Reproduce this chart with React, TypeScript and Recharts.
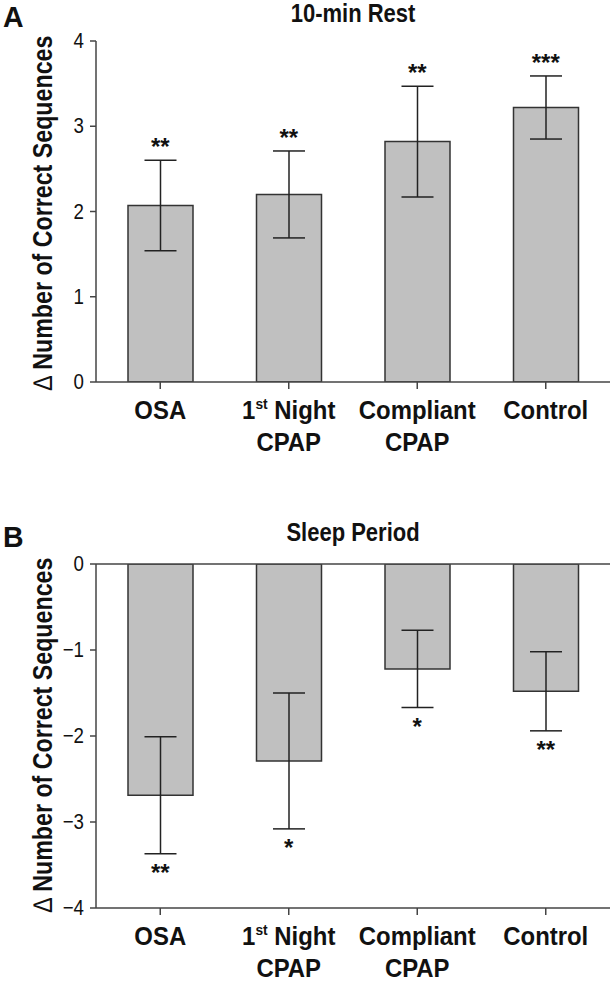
import React from 'react';
import { ComposedChart, Bar, ErrorBar, Line, XAxis, YAxis, ReferenceLine } from 'recharts';

// groups (second line after \n)
const categories = ['OSA', '1st Night\nCPAP', 'Compliant\nCPAP', 'Control'];

// A: 10-min rest
const restMeans = [2.07, 2.2, 2.82, 3.22];
const restErrors = [0.53, 0.51, 0.65, 0.37];
const restStars = ['**', '**', '**', '***'];
const restTicks = [0, 1, 2, 3, 4];

// B: sleep period
const sleepMeans = [-2.69, -2.29, -1.22, -1.48];
const sleepErrors = [0.68, 0.79, 0.45, 0.46];
const sleepStars = ['**', '*', '*', '**'];
const sleepTicks = [-4, -3, -2, -1, 0];

const FONT = '"Liberation Sans", Arial, sans-serif';
const INK = '#222';
const AXIS = '#444';

const restRows = categories.map((c, i) => ({
  group: c,
  mean: restMeans[i],
  err: restErrors[i],
  starAt: restMeans[i] + restErrors[i],
  stars: restStars[i],
}));

const sleepRows = categories.map((c, i) => ({
  group: c,
  mean: sleepMeans[i],
  err: sleepErrors[i],
  starAt: sleepMeans[i] - sleepErrors[i],
  stars: sleepStars[i],
}));

// condensed text: squeeze a normal face horizontally
function Narrow({ x, y, sx = 0.9, rotate = 0, size, bold = true, anchor = 'middle', children }: any) {
  return (
    <text
      transform={`translate(${x} ${y}) rotate(${rotate}) scale(${sx} 1)`}
      textAnchor={anchor}
      fontFamily={FONT}
      fontWeight={bold ? 'bold' : 'normal'}
      fontSize={size}
      fill="#111"
    >
      {children}
    </text>
  );
}

function CategoryTick(props: any) {
  const { x, y, payload } = props;
  const [first, second] = String(payload.value).split('\n');
  const m = first.match(/^(\d+)(st|nd|rd|th) (.*)$/);
  return (
    <g>
      <Narrow x={x} y={y + 28} size={26} sx={0.92}>
        {m ? (
          <>
            <tspan>{m[1]}</tspan>
            <tspan fontSize={15} dy={-10}>{m[2]}</tspan>
            <tspan dy={10}>{' ' + m[3]}</tspan>
          </>
        ) : (
          first
        )}
      </Narrow>
      {second && (
        <Narrow x={x} y={y + 60} size={26} sx={0.92}>
          {second}
        </Narrow>
      )}
    </g>
  );
}

function ValueTick(props: any) {
  const { x, y, payload } = props;
  const label = String(payload.value).replace('-', '\u2212');
  return (
    <Narrow x={x} y={y + 7} size={22} sx={0.85} bold={false} anchor="end">
      {label}
    </Narrow>
  );
}

const starDot = (above: boolean) => (p: any) => (
  <text
    key={`s-${p.index}`}
    x={p.cx}
    y={above ? p.cy - 5 : p.cy + 27}
    textAnchor="middle"
    fontFamily={FONT}
    fontWeight="bold"
    fontSize={24}
    fill="#111"
  >
    {p.payload.stars}
  </text>
);

function Panel({ rows, ticks, domain, height, top, bottom, above }: any) {
  return (
    <ComposedChart width={615} height={height} data={rows} margin={{ top, right: 5, bottom, left: 0 }}>
      <XAxis
        dataKey="group"
        height={60}
        interval={0}
        tickSize={7}
        tick={<CategoryTick />}
        axisLine={{ stroke: AXIS, strokeWidth: 1.5 }}
        tickLine={{ stroke: AXIS, strokeWidth: 1.5 }}
      />
      <YAxis
        width={96}
        domain={domain}
        ticks={ticks}
        allowDataOverflow
        tickSize={6}
        tickMargin={6}
        tick={<ValueTick />}
        axisLine={{ stroke: AXIS, strokeWidth: 1.5 }}
        tickLine={{ stroke: AXIS, strokeWidth: 1.5 }}
      />
      {!above && <ReferenceLine y={0} stroke={AXIS} strokeWidth={1.5} />}
      <Bar dataKey="mean" barSize={65} fill="#c0c0c0" stroke="#333" strokeWidth={1.5} isAnimationActive={false}>
        <ErrorBar dataKey="err" width={16} stroke={INK} strokeWidth={1.5} direction="y" />
      </Bar>
      <Line
        dataKey="starAt"
        stroke="none"
        dot={starDot(above)}
        activeDot={false}
        isAnimationActive={false}
        legendType="none"
      />
    </ComposedChart>
  );
}

const yTitle = (
  <>
    <tspan fontWeight="normal">{'\u2206'}</tspan>
    {' Number of Correct Sequences'}
  </>
);

export default function App() {
  return (
    <div style={{ position: 'absolute', left: 0, top: 0, width: 615, height: 981, background: '#fff' }}>
      <div style={{ position: 'absolute', left: 0, top: 0 }}>
        <Panel rows={restRows} ticks={restTicks} domain={[0, 4]} height={490} top={41} bottom={48} above />
      </div>
      <div style={{ position: 'absolute', left: 0, top: 490 }}>
        <Panel rows={sleepRows} ticks={sleepTicks} domain={[-4, 0]} height={491} top={74} bottom={13} above={false} />
      </div>
      <svg width={615} height={981} style={{ position: 'absolute', left: 0, top: 0, pointerEvents: 'none' }}>
        <Narrow x={3} y={27} size={30} sx={0.95} anchor="start">A</Narrow>
        <Narrow x={3} y={547} size={30} sx={0.95} anchor="start">B</Narrow>
        <Narrow x={353} y={22} size={25} sx={0.88}>10-min Rest</Narrow>
        <Narrow x={353} y={541} size={25} sx={0.88}>Sleep Period</Narrow>
        <Narrow x={52} y={213} rotate={-90} size={27} sx={0.86}>{yTitle}</Narrow>
        <Narrow x={52} y={735} rotate={-90} size={27} sx={0.86}>{yTitle}</Narrow>
      </svg>
    </div>
  );
}
